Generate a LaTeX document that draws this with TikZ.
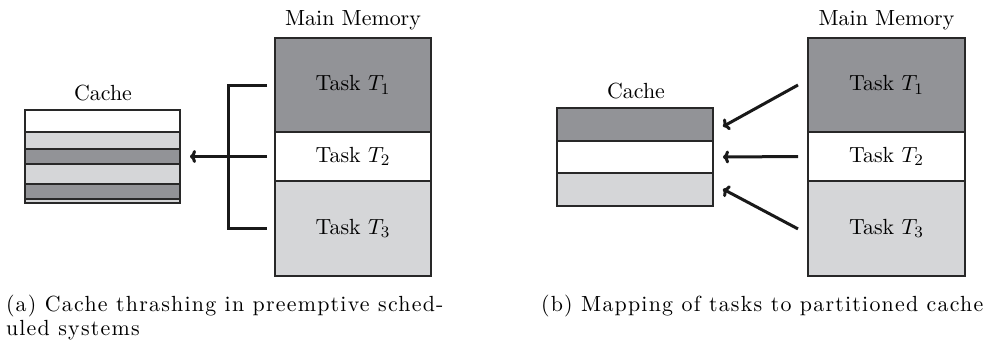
\documentclass[tikz,border=0pt]{standalone}
\usepackage{fontspec}
\usetikzlibrary{arrows.meta}
\newfontfamily\capfont[LetterSpace=5.6]{Latin Modern Roman}
\definecolor{darkg}{RGB}{146,147,151}
\definecolor{lightg}{RGB}{213,214,216}
\definecolor{edge}{RGB}{40,40,40}
\begin{document}
\begin{tikzpicture}[x=0.5pt,y=-0.5pt,
  every node/.style={font=\fontsize{10.95}{13}\selectfont, inner sep=0pt, outer sep=0pt},
  blk/.style={draw=edge, line width=0.7pt, minimum width=#1},
  mem/.style={blk=78pt},
  cblk/.style={blk=77.5pt},
  rblk/.style={blk=78pt},
  conn/.style={line width=1.5pt, draw=black!90},
  arr/.style={conn, -{To[length=3pt,width=6.5pt]}},
  lab/.style={anchor=base},
  captext/.style={anchor=base west, font=\fontsize{10.95}{13}\selectfont\capfont}]
\useasboundingbox (0,0) rectangle (984,345);

% ---------- (a) ----------
\node[lab] (mma) at (353,25) {Main Memory};
\node[mem, fill=darkg, minimum height=47pt] (t1a) at (353,85) {Task $T_1$};
\node[mem, fill=white, minimum height=24.5pt] (t2a) at (353,156.5) {Task $T_2$};
\node[mem, fill=lightg, minimum height=47.5pt] (t3a) at (353,228.5) {Task $T_3$};

\node[lab] (cla) at (103,100) {Cache};
\node[cblk, fill=white,  minimum height=11pt]  (c1) at (102.5,121) {};
\node[cblk, fill=lightg, minimum height=8.5pt] (c2) at (102.5,140.5) {};
\node[cblk, fill=darkg,  minimum height=7.5pt] (c3) at (102.5,156.5) {};
\node[cblk, fill=lightg, minimum height=10pt]  (c4) at (102.5,174) {};
\node[cblk, fill=darkg,  minimum height=7.5pt] (c5) at (102.5,191.5) {};
\node[cblk, fill=lightg, minimum height=2pt]   (c6) at (102.5,201) {};

\coordinate (b1) at ([xshift=-4pt]t1a.west);
\coordinate (b2) at ([xshift=-4pt]t2a.west);
\coordinate (b3) at ([xshift=-4pt]t3a.west);
\coordinate (bj1) at (228,85);
\coordinate (bj2) at (228,156.5);
\coordinate (bj3) at (228,228.5);
\draw[conn] (b1) -- (bj1) -- (bj3) -- (b3);
\draw[conn] (b2) -- (bj2);
\draw[arr] (bj2) -- ([xshift=5pt]c3.east);

\node[captext] (capa1) at (6,311) {(a) Cache thrashing in preemptive sched-};
\node[captext] (capa2) at (6,335) {uled systems};

% ---------- (b) ----------
\node[lab] (mmb) at (886.5,25) {Main Memory};
\node[mem, minimum width=78.5pt, fill=darkg, minimum height=47pt] (t1b) at (886.5,85) {Task $T_1$};
\node[mem, minimum width=78.5pt, fill=white, minimum height=24.5pt] (t2b) at (886.5,156.5) {Task $T_2$};
\node[mem, minimum width=78.5pt, fill=lightg, minimum height=47.5pt] (t3b) at (886.5,228.5) {Task $T_3$};

\node[lab] (clb) at (636,98) {Cache};
\node[rblk, fill=darkg,  minimum height=16.5pt] (r1) at (635,124.5) {};
\node[rblk, fill=white,  minimum height=16pt]   (r2) at (635,157) {};
\node[rblk, fill=lightg, minimum height=16.5pt] (r3) at (635,189.5) {};

\draw[arr] ([xshift=-5pt]t1b.west) -- ([xshift=5pt,yshift=-1pt]r1.east);
\draw[arr] ([xshift=-5pt]t2b.west) -- ([xshift=5pt]r2.east);
\draw[arr] ([xshift=-5pt,yshift=-0.2pt]t3b.west) -- ([xshift=5pt,yshift=0.2pt]r3.east);

\node[captext] (capb) at (541,311) {(b) Mapping of tasks to partitioned cache};
\end{tikzpicture}
\end{document}
